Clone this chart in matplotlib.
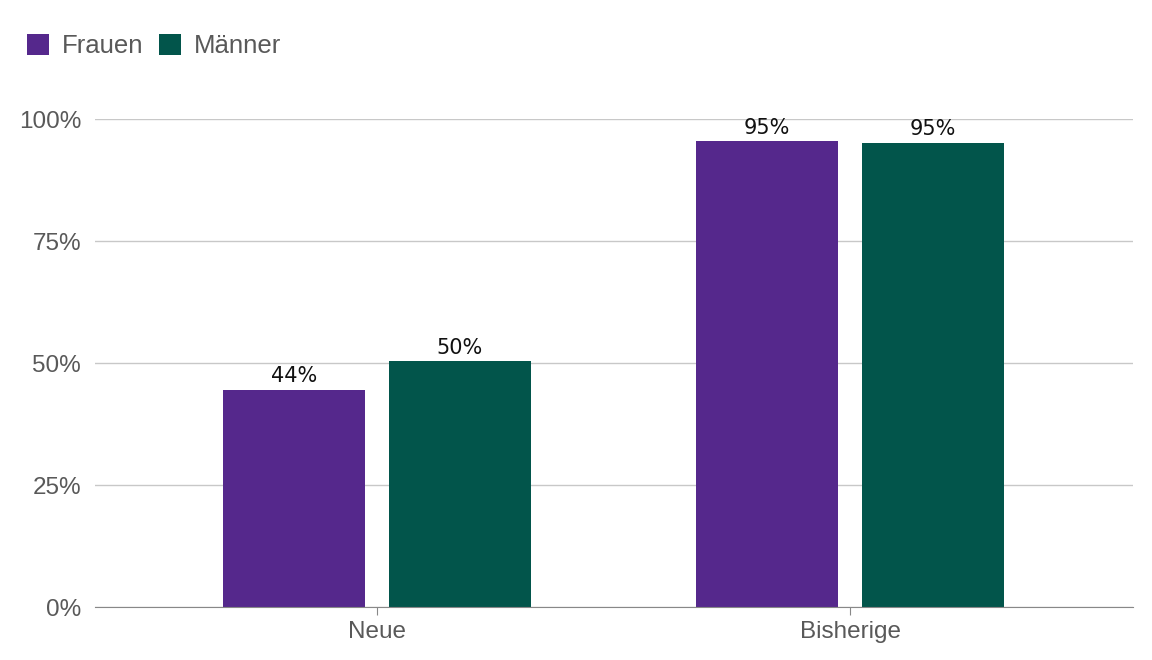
import numpy as np
import matplotlib.pyplot as plt
from matplotlib.ticker import FuncFormatter

categories = ['Neue', 'Bisherige']
series = ['Frauen', 'Männer']
frauen = [44.5, 95.5]
maenner = [50.4, 95.1]
labels_frauen = ['44%', '95%']
labels_maenner = ['50%', '95%']
colors = ['#55288c', '#02554b']

plt.rcParams['font.family'] = ['Liberation Sans', 'DejaVu Sans']

fig = plt.figure(figsize=(11.52, 6.6), dpi=100)
ax = fig.add_axes([95/1152, 1-607/660, (1133-95)/1152, (607-119)/660])

x = np.arange(len(categories))
w = 0.30
off = 0.175
b1 = ax.bar(x - off, frauen, w, color=colors[0], label=series[0])
b2 = ax.bar(x + off, maenner, w, color=colors[1], label=series[1])

for bars, labs in ((b1, labels_frauen), (b2, labels_maenner)):
    for rect, lab in zip(bars, labs):
        ax.text(rect.get_x() + rect.get_width()/2, rect.get_height() + 0.7, lab,
                ha='center', va='bottom', fontsize=15, color='#111111',
                family='DejaVu Sans')

ax.set_xlim(-0.596, 1.598)
ax.set_ylim(0, 100)
ax.set_yticks([0, 25, 50, 75, 100])
ax.yaxis.set_major_formatter(FuncFormatter(lambda v, p: f'{int(v)}%'))
ax.set_xticks(x)
ax.set_xticklabels(categories)
ax.tick_params(axis='y', length=0, labelsize=17.5, labelcolor='#595959', pad=10)
ax.tick_params(axis='x', length=6, color='#888888', labelsize=17.5, labelcolor='#595959', pad=4)
ax.grid(axis='y', color='#c8c8c8', linewidth=1)
ax.set_axisbelow(True)
for s in ['top', 'right', 'left']:
    ax.spines[s].set_visible(False)
ax.spines['bottom'].set_color('#888888')

fig.legend(handles=[b1, b2], labels=series, loc='upper left',
           bbox_to_anchor=(4/1152, 1-11/660), ncol=2, frameon=False,
           fontsize=18.5, labelcolor='#595959', handlelength=0.85, handleheight=0.85,
           handletextpad=0.5, columnspacing=0.6)

fig.savefig('out.png', dpi=100)
